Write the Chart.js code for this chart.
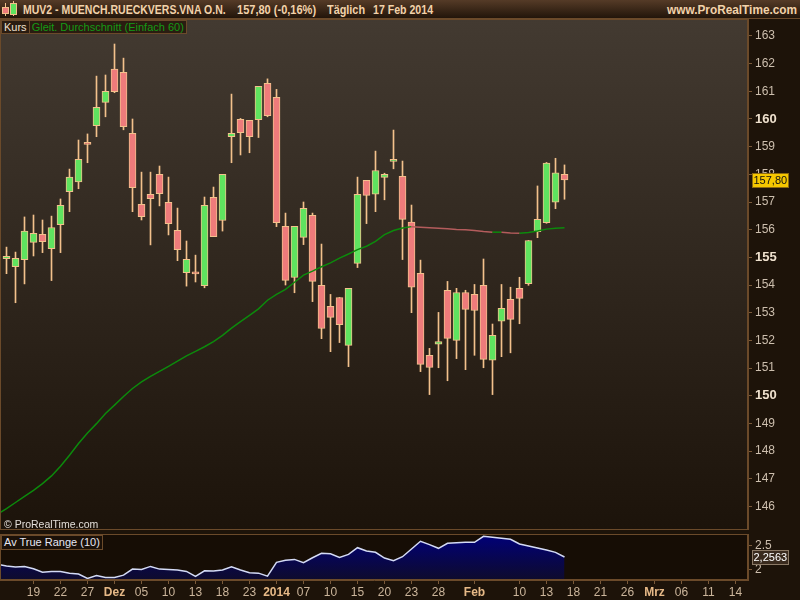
<!DOCTYPE html>
<html>
<head>
<meta charset="utf-8">
<script src="https://cdn.jsdelivr.net/npm/chart.js@4.4.1/dist/chart.umd.min.js"></script>
<style>
  html, body { margin: 0; padding: 0; width: 800px; height: 600px; overflow: hidden;
    background: #1d1309; font-family: "Liberation Sans", Arial, sans-serif; }
  #head { position: absolute; left: 0; top: 0; width: 800px; height: 18px;
    background: linear-gradient(#553b27, #22150a); border-bottom: 1px solid #6b4a2a; }
  #head span { position: absolute; top: 3px; font-size: 12px; line-height: 14px; font-weight: bold; color: #f2d2aa;
    white-space: nowrap; transform-origin: 0 0; }
  .ic { position: absolute; width: 5px; border: 1px solid #f2c08a; }
  .icw { position: absolute; width: 1px; background: #f2c08a; }
  #main { position: absolute; left: 0; top: 19px; }
  #atr { position: absolute; left: 0; top: 534px; }
  #legend { position: absolute; left: 1px; top: 20px; height: 12px; font-size: 11px; line-height: 12px;
    background: #2a1c11; border: 1px solid #6b4a2a; white-space: nowrap; }
  #legend span { display: inline-block; padding: 0 2px; }
  #copy { position: absolute; left: 4px; top: 518px; font-size: 10.5px; color: #e2ddd8; }
  #atrlbl { position: absolute; left: 1px; top: 535px; height: 13px; padding: 0 2px; font-size: 11px; line-height: 13px;
    color: #e6e6f2; background: #1a1008; border: 1px solid #6b4a2a; }
</style>
</head>
<body>
<div id="head">
  <div class="icw" style="left:5px;top:3px;height:13px"></div>
  <div class="ic" style="left:2px;top:7px;height:5px;background:#ee7b7b"></div>
  <div class="icw" style="left:13px;top:1px;height:15px"></div>
  <div class="ic" style="left:10px;top:3px;height:10px;background:#5ee35e"></div>
  <span data-w="203" style="left:23px">MUV2 - MUENCH.RUECKVERS.VNA O.N.</span>
  <span data-w="79" style="left:237px">157,80 (-0,16%)</span>
  <span data-w="38" style="left:327px">Täglich</span>
  <span data-w="60" style="left:373px">17 Feb 2014</span>
  <span data-w="130" style="left:667px">www.ProRealTime.com</span>
</div>
<canvas id="main" width="800" height="511"></canvas>
<div id="legend"><span style="color:#efe0d0;border-right:1px solid #6b4a2a">Kurs</span><span style="color:#149a14">Gleit. Durchschnitt (Einfach 60)</span></div>
<div id="copy">© ProRealTime.com</div>
<canvas id="atr" width="800" height="66"></canvas>
<div id="atrlbl">Av True Range (10)</div>

<script>
// daily candles, 14 Nov 2013 .. 17 Feb 2014 (index 0..62)
const OPEN = [154.95,154.66,154.92,155.54,155.83,155.31,156.18,157.37,157.73,159.09,
  159.76,160.60,161.80,161.69,159.48,156.92,157.28,158.00,156.99,155.98,
  154.45,154.41,153.98,157.17,156.33,159.36,159.99,159.95,159.98,161.29,
  160.78,156.12,154.27,155.72,156.52,153.99,153.23,153.55,151.82,154.78,
  157.78,157.28,157.89,158.47,157.93,156.27,154.42,151.46,151.86,153.81,
  152.00,153.73,153.66,153.99,151.28,152.69,153.48,153.88,154.05,155.93,
  156.25,156.99,158.00];
const HIGH = [155.37,155.19,156.46,156.53,156.35,156.49,157.11,158.19,159.24,159.46,
  161.55,161.59,162.71,162.20,160.00,158.08,158.08,158.30,157.90,156.78,
  155.59,155.08,157.18,157.54,158.00,160.90,160.02,159.95,161.18,161.45,
  161.07,156.60,156.12,157.00,156.60,155.48,153.66,153.55,153.88,157.90,
  157.78,158.84,158.04,159.60,158.48,156.89,154.90,151.71,153.01,154.13,
  153.88,153.81,154.02,154.94,152.59,154.02,153.92,154.28,155.61,157.58,
  158.43,158.58,158.34];
const LOW = [154.41,153.36,154.04,155.05,155.17,154.16,155.17,156.65,157.48,158.42,
  159.36,160.08,160.95,159.61,156.65,156.35,155.45,156.86,155.81,154.88,
  153.96,154.11,153.90,155.75,155.95,158.42,158.70,158.78,159.33,160.08,
  156.11,154.00,153.72,155.46,153.40,152.06,151.59,151.92,151.05,154.63,
  156.22,156.65,157.08,158.20,154.92,153.00,150.87,150.04,151.01,150.54,
  151.34,150.94,151.46,151.01,150.04,151.41,151.55,152.60,153.99,155.71,
  156.23,156.76,157.10];
const CLOSE = [155.04,154.96,155.95,155.87,155.57,156.08,156.88,157.90,158.54,159.08,
  160.42,161.00,160.99,159.72,157.52,156.47,157.12,157.30,156.22,155.28,
  154.93,154.40,156.88,155.75,158.00,159.48,159.51,159.36,161.18,160.12,
  156.25,154.17,156.12,156.77,154.13,152.43,152.83,152.57,153.88,157.28,
  157.24,158.14,158.00,158.54,156.37,153.92,151.13,151.02,151.96,152.07,
  153.73,153.12,153.08,151.31,152.18,153.16,152.76,153.52,155.61,156.37,
  158.41,158.05,157.80];

// simple moving average 60, index -1..62
const MA60 = [145.72,145.92,146.14,146.36,146.58,146.82,147.10,147.45,147.85,148.27,148.65,
  148.99,149.36,149.66,149.97,150.26,150.50,150.70,150.88,151.06,151.25,
  151.44,151.60,151.77,151.95,152.18,152.44,152.68,152.90,153.14,153.45,
  153.66,153.84,154.10,154.36,154.50,154.66,154.80,154.97,155.12,155.28,
  155.40,155.58,155.82,155.97,156.06,156.11,156.09,156.07,156.05,156.03,
  156.01,156.00,155.97,155.93,155.91,155.91,155.88,155.87,155.90,155.95,
  156.02,156.05,156.07];

// average true range (10), index -1..62
const ATR10 = [2.102,2.067,2.046,2.060,2.011,1.941,1.955,1.955,1.920,1.900,1.809,
  1.872,1.830,1.830,1.879,2.004,1.998,2.060,2.004,1.998,1.984,
  1.955,1.851,1.969,1.962,1.984,2.053,1.984,1.927,1.920,1.858,
  2.144,2.186,2.206,2.137,2.241,2.332,2.325,2.248,2.311,2.450,
  2.381,2.353,2.234,2.179,2.262,2.423,2.583,2.513,2.437,2.541,
  2.555,2.562,2.562,2.688,2.667,2.646,2.625,2.527,2.485,2.444,
  2.402,2.353,2.2563];

const PRICE_TICKS = [146,147,148,149,150,151,152,153,154,155,156,157,158,159,160,161,162,163];
const ATR_TICKS = [2, 2.5];
const ATR_TICK_LABELS = ['2', '2.5'];
const DATE_TICKS = [3,6,9,12,15,18,21,24,27,30,33,36,39,42,45,48,52,57,60,63,66,69,72,75,78,81];
const DATE_LABELS = ['19','22','27','Dez','05','10','13','18','23','2014','07','10','15','20',
  '23','28','Feb','10','13','18','21','26','Mrz','06','11','14'];

const FONT = '"Liberation Sans", Arial, sans-serif';
const X_MIN = -0.7222, X_MAX = 82.3889;
const GREEN = '#5fe35f', RED = '#ee7b7b', EDGE = '#f3c18c';
const MA_UP = '#0c8a0c', MA_DOWN = '#b45c5c';
const AXIS = '#6b4a2a', TICKC = '#7a5a3a';

// squeeze header texts to the widths of the original title bar
document.querySelectorAll('#head span').forEach(el => {
  const k = Number(el.dataset.w) / el.offsetWidth;
  el.style.transform = 'scaleX(' + k.toFixed(3) + ')';
});

Chart.defaults.animation = false;
Chart.defaults.font.family = FONT;

const idx = CLOSE.map((_, i) => i);

// no label overhang padding, keep plot areas flush with the panels
function noPad(s) { s.paddingTop = 0; s.paddingBottom = 0; s.paddingLeft = 0; s.paddingRight = 0; }

const panelBg = {
  id: 'panelBg',
  beforeDraw(chart, args, opts) {
    const { ctx, chartArea: a } = chart;
    ctx.save();
    if (opts.top) {
      const g = ctx.createLinearGradient(0, a.top, 0, a.bottom);
      g.addColorStop(0, opts.top);
      g.addColorStop(1, opts.bottom);
      ctx.fillStyle = g;
    } else {
      ctx.fillStyle = opts.bottom;
    }
    ctx.fillRect(a.left, a.top, a.right - a.left, a.bottom - a.top);
    ctx.restore();
  },
  afterDraw(chart) {
    const { ctx, chartArea: a } = chart;
    ctx.save();
    ctx.strokeStyle = AXIS;
    ctx.lineWidth = 1;
    ctx.strokeRect(a.left + 0.5, a.top + 0.5, a.right - a.left - 1, a.bottom - a.top - 1);
    ctx.restore();
  }
};

// value box on the right axis
const lastBox = {
  id: 'lastBox',
  afterDraw(chart, args, opts) {
    const { ctx } = chart;
    const y = Math.round(chart.scales.y.getPixelForValue(opts.value));
    const x = chart.chartArea.right + 4;
    ctx.save();
    ctx.font = '11px ' + FONT;
    const w = Math.ceil(ctx.measureText(opts.text).width) + 3;
    ctx.fillStyle = opts.bg;
    ctx.fillRect(x, y - 7, w, 15);
    ctx.strokeStyle = opts.border;
    ctx.strokeRect(x + 0.5, y - 6.5, w - 1, 14);
    ctx.fillStyle = opts.color;
    ctx.textBaseline = 'middle';
    ctx.fillText(opts.text, x + 1.5, y + 1);
    ctx.restore();
  }
};

const priceTickFont = c => ({ family: FONT, size: c.tick && c.tick.value % 5 === 0 ? 13 : 12,
  weight: c.tick && c.tick.value % 5 === 0 ? 'bold' : 'normal' });
const priceTickColor = c => (c.tick && c.tick.value % 5 === 0 ? '#efe1ce' : '#cdbfae');

new Chart(document.getElementById('main'), {
  type: 'bar',
  data: {
    datasets: [
      {
        type: 'line', label: 'MA60', order: 0,
        data: MA60.map((v, k) => ({ x: k - 1, y: v })),
        borderWidth: 1.5, pointRadius: 0, tension: 0,
        segment: { borderColor: c => (c.p1.parsed.y >= c.p0.parsed.y ? MA_UP : MA_DOWN) },
        borderColor: MA_UP,
      },
      {
        label: 'body', order: 1, grouped: false,
        data: idx.map(i => ({ x: i, y: [OPEN[i], CLOSE[i]] })),
        backgroundColor: idx.map(i => (CLOSE[i] >= OPEN[i] ? GREEN : RED)),
        borderColor: EDGE, borderWidth: 1, borderSkipped: false,
        barThickness: 7, minBarLength: 2,
      },
      {
        label: 'wick', order: 2, grouped: false,
        data: idx.map(i => ({ x: i, y: [LOW[i], HIGH[i]] })),
        backgroundColor: EDGE, borderWidth: 0, barThickness: 1,
      },
    ],
  },
  options: {
    responsive: false,
    layout: { padding: 0 },
    plugins: {
      legend: { display: false }, tooltip: { enabled: false },
      panelBg: { top: '#433a31', bottom: '#1c130a' },
      lastBox: { value: CLOSE[CLOSE.length - 1], text: CLOSE[CLOSE.length - 1].toFixed(2).replace('.', ','),
        bg: '#f6c800', border: '#8c6a10', color: '#111' },
    },
    scales: {
      x: { type: 'linear', min: X_MIN, max: X_MAX, offset: false, display: false, grid: { offset: false } },
      y: {
        position: 'right', min: 145.146, max: 163.614,
        afterBuildTicks: s => { s.ticks = PRICE_TICKS.map(v => ({ value: v })); },
        afterFit: s => { s.width = 52; noPad(s); },
        grid: { drawOnChartArea: false, tickLength: 4, color: TICKC },
        border: { color: AXIS },
        ticks: { padding: 3, font: priceTickFont, color: priceTickColor, callback: v => String(v) },
      },
    },
  },
  plugins: [panelBg, lastBox],
});

const isBold = s => s.length !== 2;

new Chart(document.getElementById('atr'), {
  type: 'line',
  data: {
    datasets: [{
      data: ATR10.map((v, k) => ({ x: k - 1, y: v })),
      borderColor: '#d4dbf6', borderWidth: 1.5, pointRadius: 0, tension: 0,
      fill: 'start',
      backgroundColor: c => {
        const a = c.chart.chartArea;
        if (!a) return '#00006e';
        const g = c.chart.ctx.createLinearGradient(0, a.top, 0, a.bottom);
        g.addColorStop(0, '#00007a');
        g.addColorStop(1, '#0e0b2c');
        return g;
      },
    }],
  },
  options: {
    responsive: false,
    layout: { padding: 0 },
    plugins: {
      legend: { display: false }, tooltip: { enabled: false },
      panelBg: { bottom: '#160d05' },
      lastBox: { value: ATR10[ATR10.length - 1], text: ATR10[ATR10.length - 1].toFixed(4).replace('.', ','),
        bg: '#3a2b1e', border: '#8c7a66', color: '#ffffff' },
    },
    scales: {
      x: {
        type: 'linear', min: X_MIN, max: X_MAX,
        afterBuildTicks: s => { s.ticks = DATE_TICKS.map(v => ({ value: v })); },
        afterFit: s => { s.height = 20; noPad(s); },
        grid: { drawOnChartArea: false, tickLength: 4, color: TICKC },
        border: { color: AXIS },
        ticks: {
          autoSkip: false, maxRotation: 0, padding: 1,
          callback: (v, k) => DATE_LABELS[k],
          font: c => ({ family: FONT, size: 12, weight: isBold(DATE_LABELS[c.index] || '') ? 'bold' : 'normal' }),
          color: c => (isBold(DATE_LABELS[c.index] || '') ? '#e6b987' : '#cbb59b'),
        },
      },
      y: {
        position: 'right', min: 1.777, max: 2.735,
        afterBuildTicks: s => { s.ticks = ATR_TICKS.map(v => ({ value: v })); },
        afterFit: s => { s.width = 52; noPad(s); },
        grid: { drawOnChartArea: false, tickLength: 4, color: TICKC },
        border: { color: AXIS },
        ticks: { padding: 3, font: { size: 12 }, color: '#cdbfae', callback: (v, k) => ATR_TICK_LABELS[k] },
      },
    },
  },
  plugins: [panelBg, lastBox],
});
</script>
</body>
</html>
